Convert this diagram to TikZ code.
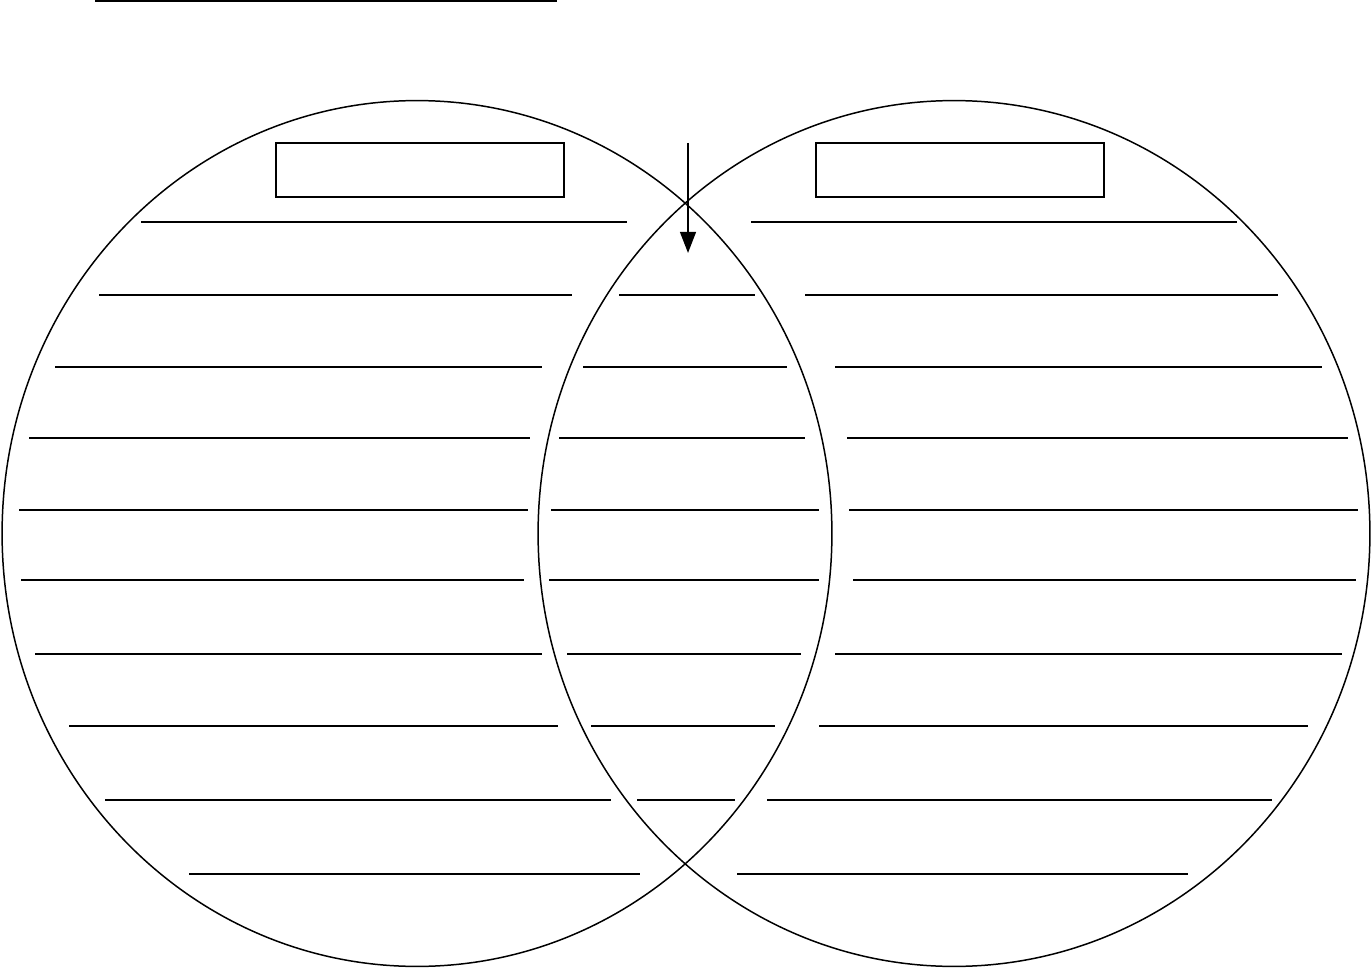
\documentclass[tikz,border=0pt]{standalone}
\usepackage{tikz}
\usetikzlibrary{shapes.geometric, arrows.meta}
\tikzstyle{setcircle} = [ellipse, draw=black, line width=0.85pt, inner sep=0pt, minimum height=17.32cm]
\tikzstyle{titlebox} = [rectangle, draw=black, line width=1.1pt, inner sep=0pt, minimum width=5.76cm, minimum height=1.08cm]
\tikzstyle{writeline} = [line width=1.1pt]
\tikzstyle{arrow} = [line width=1.1pt, -{Triangle[length=12pt,width=9pt]}]

\begin{document}
\begin{tikzpicture}[x=0.02cm, y=-0.02cm]
		\useasboundingbox (0,0) rectangle (1372,969);
		\coordinate (leftset) at (417,533.5);
		\coordinate (rightset) at (954,533.5);
		\coordinate (lefttitle) at (420,170);
		\coordinate (righttitle) at (960,170);
		\coordinate (arrowtop) at (688,143);
		\coordinate (arrowtip) at (688,253);
		\coordinate (namestart) at (95,1);
		\coordinate (nameend) at (557,1);
		% Name line
		\draw[writeline] (namestart)--(nameend);
		% Circles
		\node[setcircle, name=leftcircle, minimum width=16.6cm] at (leftset) {};
		\node[setcircle, name=rightcircle, minimum width=16.64cm] at (rightset) {};
		% Title boxes
		\node[titlebox, name=leftbox] at (lefttitle) {};
		\node[titlebox, name=rightbox] at (righttitle) {};
		% Arrow into the overlap
		\draw [arrow] (arrowtop)--(arrowtip);
		% Writing lines: y / left part / middle part / right part
		\foreach \y/\a/\b in {222/141/627, 874/189/640}
			\draw[writeline] (\a,\y)--(\b,\y);
		\foreach \y/\a/\b in {222/751/1237, 874/737/1188}
			\draw[writeline] (\a,\y)--(\b,\y);
		\foreach \y/\a/\b/\c/\d/\e/\f in {
			295/99/572/619/755/805/1278,
			367/55/542/583/787/835/1322,
			438/29/530/559/805/847/1348,
			510/19/528/551/819/849/1358,
			580/21/524/549/819/853/1356,
			654/35/542/567/801/835/1342,
			726/69/558/591/775/819/1308,
			800/105/611/637/735/767/1272}
		{
			\draw[writeline] (\a,\y)--(\b,\y);
			\draw[writeline] (\c,\y)--(\d,\y);
			\draw[writeline] (\e,\y)--(\f,\y);
		}
\end{tikzpicture}
\end{document}
